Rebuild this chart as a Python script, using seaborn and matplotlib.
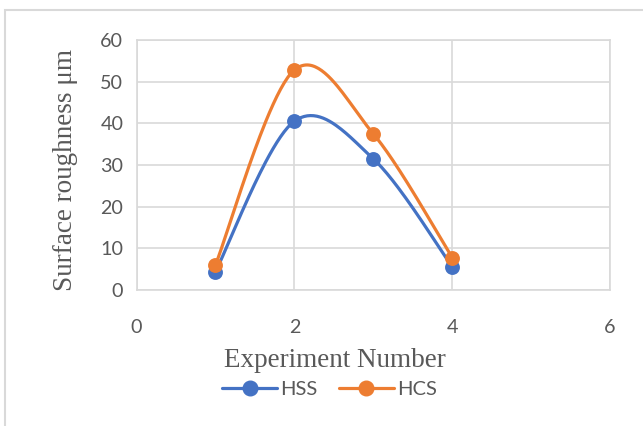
import numpy as np
import pandas as pd
import matplotlib
matplotlib.use("Agg")
import matplotlib.pyplot as plt
from matplotlib.lines import Line2D
from matplotlib.patches import Rectangle
import seaborn as sns

# Surface roughness per experiment for the two tool materials
experiment = [1, 2, 3, 4]
hss = [4.4, 40.5, 31.5, 5.6]
hcs = [6.0, 52.8, 37.5, 7.8]
series_names = ["HSS", "HCS"]
series_colors = ["#4472C4", "#ED7D31"]
x_ticks = [0, 2, 4, 6]
y_ticks = [0, 10, 20, 30, 40, 50, 60]


def smooth_curve(xs, ys, steps=50):
    """Cubic Bezier through every point (Catmull-Rom tangents), like a smoothed line."""
    pts = np.column_stack([xs, ys]).astype(float)
    ext = np.vstack([pts[0], pts, pts[-1]])
    t = np.linspace(0, 1, steps)[:, None]
    parts = []
    for i in range(len(pts) - 1):
        p0, p1, p2, p3 = ext[i], ext[i + 1], ext[i + 2], ext[i + 3]
        c1 = p1 + (p2 - p0) / 6
        c2 = p2 - (p3 - p1) / 6
        seg = ((1 - t) ** 3) * p1 + 3 * ((1 - t) ** 2) * t * c1 + 3 * (1 - t) * t ** 2 * c2 + t ** 3 * p2
        parts.append(seg if i == 0 else seg[1:])
    return np.vstack(parts)


sns.set_theme(style="white")
plt.rcParams["font.family"] = ["Lato", "DejaVu Sans"]

fig = plt.figure(figsize=(6.43, 4.26), dpi=100)
ax = fig.add_axes([136.5 / 643, 1 - 290 / 426, 473.5 / 643, 250 / 426])

grey = "#d9d9d9"
for name, values, color in zip(series_names, [hss, hcs], series_colors):
    curve = smooth_curve(experiment, values)
    line_df = pd.DataFrame({"x": curve[:, 0], "y": curve[:, 1]})
    sns.lineplot(data=line_df, x="x", y="y", sort=False, estimator=None,
                 color=color, linewidth=2.3, ax=ax, zorder=3)
    pt_df = pd.DataFrame({"x": experiment, "y": values})
    sns.scatterplot(data=pt_df, x="x", y="y", color=color, s=115,
                    linewidth=0, ax=ax, zorder=4)

ax.set_xlim(0, 6)
ax.set_ylim(0, 60)
ax.set_xticks(x_ticks)
ax.set_yticks(y_ticks)
ax.set_xticklabels([str(v) for v in x_ticks])
ax.set_yticklabels([str(v) for v in y_ticks])
ax.tick_params(axis="both", length=0, labelsize=14.2, labelcolor="#595959")
ax.tick_params(axis="x", pad=21)
ax.tick_params(axis="y", pad=9.5)
ax.grid(True, color=grey, linewidth=1.2)
ax.set_axisbelow(True)
for sp in ax.spines.values():
    sp.set_color(grey)
    sp.set_linewidth(1.2)

serif = ["Liberation Serif", "DejaVu Serif"]
ax.set_xlabel("Experiment Number", family=serif, fontsize=19.5, color="#595959", va="center")
ax.xaxis.set_label_coords(0.419, -0.28)
ax.set_ylabel("Surface roughness μm", family=serif, fontsize=19.5, color="#595959", va="center")
ax.yaxis.set_label_coords(-0.151, 0.48)

handles = [Line2D([], [], color=c, linewidth=2.3, marker="o", markersize=10.5)
           for c in series_colors]
ax.legend(handles, series_names, loc="center", bbox_to_anchor=(0.4076, -0.396),
          ncol=2, frameon=False, fontsize=14.5, handlelength=2.7,
          handletextpad=0.15, columnspacing=1.1, labelcolor="#595959")

# Chart frame running off the right and bottom edges
fig.patches.append(Rectangle((5 / 643, -0.1), 1.2, 1 - 10 / 426 + 0.1,
                             transform=fig.transFigure, fill=False,
                             edgecolor=grey, linewidth=1.5))

fig.savefig("out.png", dpi=100)
